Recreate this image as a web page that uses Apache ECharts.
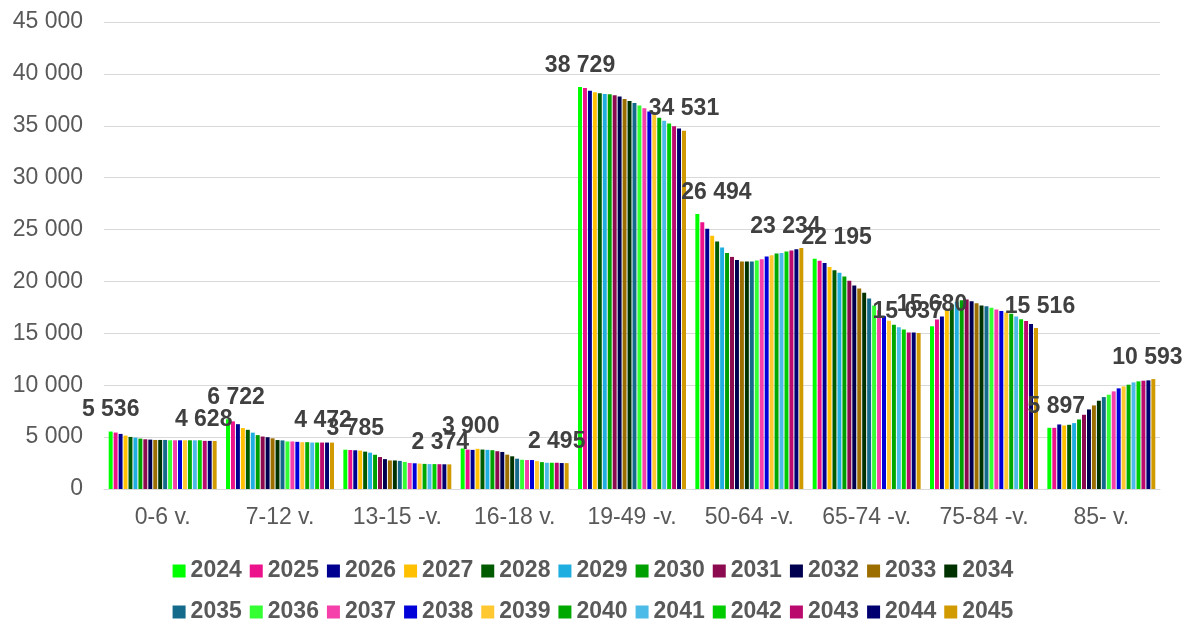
<!DOCTYPE html>
<html><head><meta charset="utf-8">
<script src="https://cdn.jsdelivr.net/npm/echarts@6/dist/echarts.min.js"></script>
<style>html,body{margin:0;padding:0;background:#fff}#c{width:1186px;height:620px}</style>
</head><body><div id="c"></div>
<script>
const categories = ["0-6 v.", "7-12 v.", "13-15 -v.", "16-18 v.", "19-49 -v.", "50-64 -v.", "65-74 -v.", "75-84 -v.", "85- v."];
const years = ["2024","2025","2026","2027","2028","2029","2030","2031","2032","2033","2034","2035","2036","2037","2038","2039","2040","2041","2042","2043","2044","2045"];
const colors = ["#00FF00","#EC128C","#000090","#FFC000","#005A00","#1EAEE0","#00A000","#8B0A50","#000050","#9C6E00","#003200","#136A8A","#33FF33","#F53FAA","#0000D8","#FFC830","#00A800","#4DBBE8","#00CC00","#BB0A6E","#000070","#D09A00"];
const yTicks = [0,5000,10000,15000,20000,25000,30000,35000,40000,45000];
// values per age group, one entry per year 2024..2045
const g0_6   = [5536,5439,5309,5147,5018,4953,4856,4791,4758,4726,4726,4726,4694,4694,4694,4694,4694,4694,4694,4640,4635,4628];
const g7_12  = [6722,6518,6246,5872,5702,5430,5192,5056,4988,4886,4716,4682,4580,4580,4546,4512,4512,4478,4478,4476,4474,4472];
const g13_15 = [3785,3760,3730,3700,3600,3500,3300,3080,2880,2750,2750,2710,2610,2510,2480,2450,2420,2400,2400,2390,2380,2374];
const g16_18 = [3900,3800,3770,3870,3800,3770,3740,3640,3570,3310,3150,2920,2820,2790,2790,2690,2590,2530,2530,2530,2500,2495];
const g19_49 = [38729,38630,38370,38240,38140,38070,38040,37940,37810,37580,37380,37190,36960,36700,36370,36070,35780,35480,35220,34960,34730,34531];
const g50_64 = [26494,25694,25086,24414,23838,23262,22750,22366,22078,21918,21918,21918,22014,22142,22398,22526,22686,22750,22878,22974,23102,23234];
const g65_74 = [22195,22002,21776,21390,21068,20843,20488,20070,19619,19329,18911,18363,17687,17236,16657,16206,15820,15594,15369,15079,15070,15037];
const g75_84 = [15680,16330,16620,17340,17790,18050,18180,18250,18080,17890,17690,17600,17470,17300,17140,17010,16880,16620,16360,16200,15906,15516];
const g85    = [5897,5897,6219,6122,6187,6348,6702,7153,7668,8054,8505,8859,9085,9407,9697,9890,10051,10276,10373,10437,10469,10593];
const groups = [g0_6,g7_12,g13_15,g16_18,g19_49,g50_64,g65_74,g75_84,g85];

const fmt = v => String(Math.round(v)).replace(/\B(?=(\d{3})+(?!\d))/g, ' ');
const FONT = '"Liberation Sans", Arial, sans-serif';

// horizontal label nudges (styling only) for first and last series
const firstLabelDx = [0, 8, 10, 8, 0, 19, 22, 0, 7];
const lastLabelDx  = [-11, -9, -9, -10, 0, -16, -11, 4, -6];

const series = years.map((y, i) => {
  const isFirst = i === 0, isLast = i === years.length - 1;
  const showLbl = isFirst || isLast;
  return {
    name: y, type: 'bar',
    data: groups.map((g, k) => showLbl
      ? { value: g[i], label: { offset: [isFirst ? firstLabelDx[k] : lastLabelDx[k], 0] } }
      : g[i]),
    itemStyle: { color: colors[i] },
    barGap: '25%', barCategoryGap: '8%',
    label: {
      show: showLbl, position: 'top', distance: 10,
      formatter: p => fmt(p.value),
      fontFamily: FONT, fontWeight: 'bold', fontSize: 23, color: '#404040'
    }
  };
});

const chart = echarts.init(document.getElementById('c'), null, {renderer: 'canvas'});
const legendCommon = {
  type: 'plain', orient: 'horizontal', left: 'center',
  itemWidth: 13, itemHeight: 13, itemGap: 8, icon: 'rect', padding: 0,
  textStyle: { fontFamily: FONT, fontWeight: 'bold', fontSize: 23, lineHeight: 24, color: '#595959' }
};
chart.setOption({
  animation: false,
  color: colors,
  grid: { left: 104, right: 26, top: 22, bottom: 131, containLabel: false },
  legend: [
    Object.assign({}, legendCommon, { top: 559, data: years.slice(0, 11) }),
    Object.assign({}, legendCommon, { top: 600, data: years.slice(11) })
  ],
  xAxis: {
    type: 'category', data: categories,
    axisTick: { show: false },
    axisLine: { lineStyle: { color: '#d9d9d9', width: 1 } },
    axisLabel: { fontFamily: FONT, fontSize: 23, color: '#595959', margin: 17 }
  },
  yAxis: {
    type: 'value', min: yTicks[0], max: yTicks[yTicks.length - 1], interval: yTicks[1] - yTicks[0],
    axisLine: { show: false }, axisTick: { show: false },
    splitLine: { lineStyle: { color: '#d9d9d9', width: 1 } },
    axisLabel: { fontFamily: FONT, fontSize: 23, color: '#595959', margin: 21, formatter: v => fmt(v) }
  },
  series: series
});
</script></body></html>
